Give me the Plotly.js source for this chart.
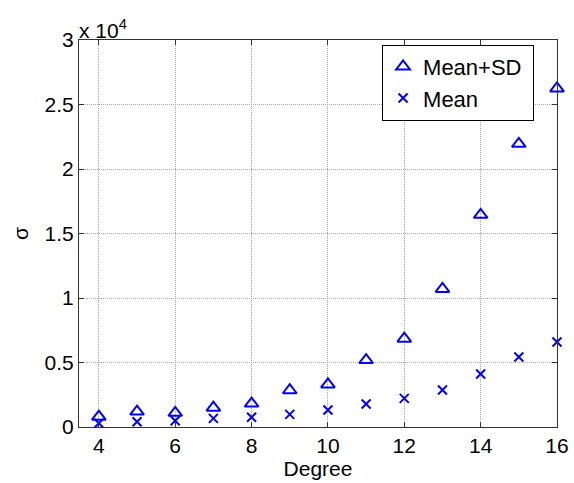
<!DOCTYPE html>
<html>
<head>
<meta charset="utf-8">
<script src="https://cdn.plot.ly/plotly-3.0.1.min.js"></script>
<style>html,body{margin:0;padding:0;background:#fff;}#chart{width:574px;height:483px;}</style>
</head>
<body>
<div id="chart"></div>
<script>
const degrees = [4, 5, 6, 7, 8, 9, 10, 11, 12, 13, 14, 15, 16];
const meanPlusSD = [800, 1200, 1100, 1500, 1820, 2850, 3300, 5190, 6850, 10700, 16450, 21950, 26250];
const meanVals = [290, 410, 490, 670, 750, 980, 1320, 1780, 2220, 2870, 4110, 5430, 6590];
const yTickVals = [0, 5000, 10000, 15000, 20000, 25000, 30000];
const yTickText = ['0', '0.5', '1', '1.5', '2', '2.5', '3'];
const xTickVals = [4, 6, 8, 10, 12, 14, 16];

const font = {family: 'Liberation Sans, Arial, sans-serif', size: 21, color: '#000'};
const legendFont = {family: 'Liberation Sans, Arial, sans-serif', size: 22, color: '#000'};

const traces = [
  {x: degrees, y: meanPlusSD, name: 'Mean+SD ', mode: 'markers', type: 'scatter', cliponaxis: false,
   marker: {symbol: 'triangle-up-open', size: 12, color: '#0000ff', line: {width: 2, color: '#0000ff'}}},
  {x: degrees, y: meanVals, name: 'Mean', mode: 'markers', type: 'scatter', cliponaxis: false,
   marker: {symbol: 'x-thin-open', size: 9, color: '#0000ff', line: {width: 2, color: '#0000ff'}}}
];

const axisCommon = {
  showgrid: true, gridcolor: '#a8a8a8', griddash: '1px,1px', gridwidth: 1,
  showline: true, linecolor: '#333', linewidth: 1, mirror: 'ticks',
  ticks: 'inside', ticklen: 5, tickcolor: '#333', zeroline: false,
  tickfont: font
};

const layout = {
  width: 574, height: 483,
  margin: {l: 79, r: 17, t: 40, b: 56},
  paper_bgcolor: '#fff', plot_bgcolor: '#fff',
  font: font,
  showlegend: true,
  legend: {x: 0.952, xanchor: 'right', y: 0.988, yanchor: 'top',
    bgcolor: '#fff', bordercolor: '#000', borderwidth: 1, font: legendFont,
    itemwidth: 30, tracegroupgap: 0},
  xaxis: Object.assign({}, axisCommon, {range: [3.48, 16], tickvals: xTickVals,
    title: {text: 'Degree', font: font, standoff: 0}}),
  yaxis: Object.assign({}, axisCommon, {range: [0, 30000], tickvals: yTickVals, ticktext: yTickText,
    title: {text: 'σ', font: font, standoff: 10}}),
  annotations: [{xref: 'paper', yref: 'paper', x: 0, y: 1, xanchor: 'left', yanchor: 'bottom',
    yshift: -4, xshift: -2, showarrow: false, text: 'x 10<sup>4</sup>', font: font}]
};

Plotly.newPlot('chart', traces, layout, {displayModeBar: false, staticPlot: true});
</script>
</body>
</html>
